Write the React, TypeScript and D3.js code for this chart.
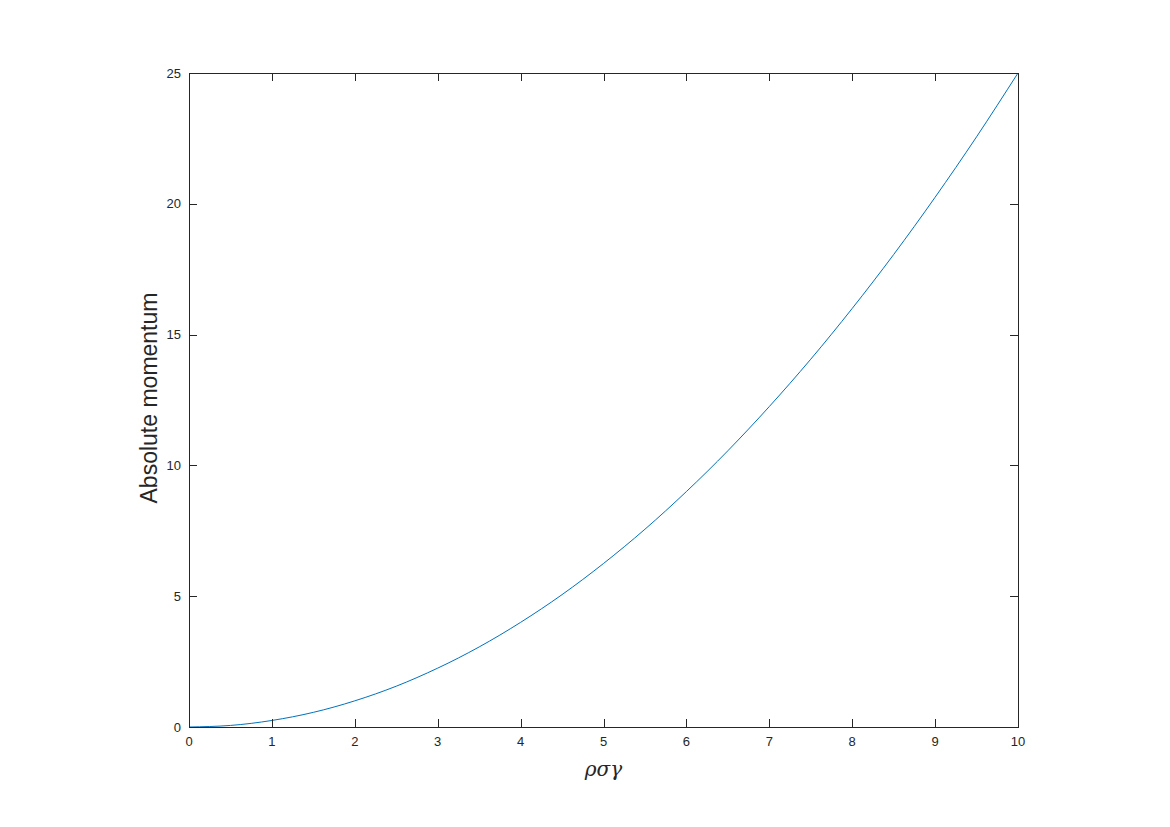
import React, { useEffect, useRef } from "react";
import * as d3 from "d3";

// Values (x = rho sigma gamma, y = absolute momentum)
const xValues = [0, 0.5, 1, 1.5, 2, 2.5, 3, 3.5, 4, 4.5, 5, 5.5, 6, 6.5, 7, 7.5, 8, 8.5, 9, 9.5, 10];
const yValues = [0, 0.06, 0.25, 0.56, 1, 1.56, 2.25, 3.06, 4, 5.06, 6.25, 7.56, 9, 10.56, 12.25, 14.06, 16, 18.06, 20.25, 22.56, 25];
const xTicks = [0, 1, 2, 3, 4, 5, 6, 7, 8, 9, 10];
const yTicks = [0, 5, 10, 15, 20, 25];

const App = () => {
  const ref = useRef<SVGSVGElement>(null);

  useEffect(() => {
    const W = 1170,
      H = 827;
    const margin = { top: 73, right: 152, bottom: 100, left: 189 };
    const width = W - margin.left - margin.right,
      height = H - margin.top - margin.bottom;
    const axisColor = "#262626";
    const font = "Helvetica, 'Liberation Sans', Arial, sans-serif";

    const svg = d3.select(ref.current);
    svg.selectAll("*").remove();
    svg.attr("width", W).attr("height", H);

    const g = svg.append("g").attr("transform", `translate(${margin.left},${margin.top})`);

    const x = d3.scaleLinear().domain([0, 10]).range([0, width]);
    const y = d3.scaleLinear().domain([0, 25]).range([height, 0]);

    // Data line
    const data = xValues.map((v, i) => [v, yValues[i]] as [number, number]);
    g.append("path")
      .datum(data)
      .attr("d", d3.line().x((d) => x(d[0])).y((d) => y(d[1])).curve(d3.curveMonotoneX))
      .attr("fill", "none")
      .attr("stroke", "#0072BD")
      .attr("stroke-width", 1);

    // Box
    g.append("rect")
      .attr("x", 0.5)
      .attr("y", 0.5)
      .attr("width", width)
      .attr("height", height)
      .attr("fill", "none")
      .attr("stroke", axisColor)
      .attr("stroke-width", 1);

    // X ticks (inward, bottom and top)
    xTicks.forEach((t) => {
      const px = Math.round(x(t)) + 0.5;
      g.append("line").attr("x1", px).attr("x2", px).attr("y1", height).attr("y2", height - 8).attr("stroke", axisColor);
      g.append("line").attr("x1", px).attr("x2", px).attr("y1", 0).attr("y2", 8).attr("stroke", axisColor);
      g.append("text")
        .attr("x", x(t))
        .attr("y", height + 19)
        .attr("text-anchor", "middle")
        .attr("font-family", font)
        .attr("font-size", 13)
        .attr("fill", axisColor)
        .text(t);
    });

    // Y ticks (inward, left and right)
    yTicks.forEach((t) => {
      const py = Math.round(y(t)) + 0.5;
      g.append("line").attr("x1", 0).attr("x2", 8).attr("y1", py).attr("y2", py).attr("stroke", axisColor);
      g.append("line").attr("x1", width).attr("x2", width - 8).attr("y1", py).attr("y2", py).attr("stroke", axisColor);
      g.append("text")
        .attr("x", -8)
        .attr("y", y(t))
        .attr("dy", "0.35em")
        .attr("text-anchor", "end")
        .attr("font-family", font)
        .attr("font-size", 13)
        .attr("fill", axisColor)
        .text(t);
    });

    // Axis labels
    g.append("text")
      .attr("x", width / 2)
      .attr("y", height + 49)
      .attr("text-anchor", "middle")
      .attr("font-family", "'DejaVu Serif', 'Liberation Serif', serif")
      .attr("font-style", "italic")
      .attr("font-size", 20)
      .attr("fill", axisColor)
      .text("ρσγ");

    g.append("text")
      .attr("transform", `translate(${-32},${height / 2 - 2}) rotate(-90)`)
      .attr("text-anchor", "middle")
      .attr("font-family", font)
      .attr("font-size", 23)
      .attr("fill", axisColor)
      .text("Absolute momentum");
  }, []);

  return (
    <div style={{ position: "absolute", left: 0, top: 0, background: "#fff" }}>
      <svg ref={ref} style={{ display: "block" }}></svg>
    </div>
  );
};

export default App;
